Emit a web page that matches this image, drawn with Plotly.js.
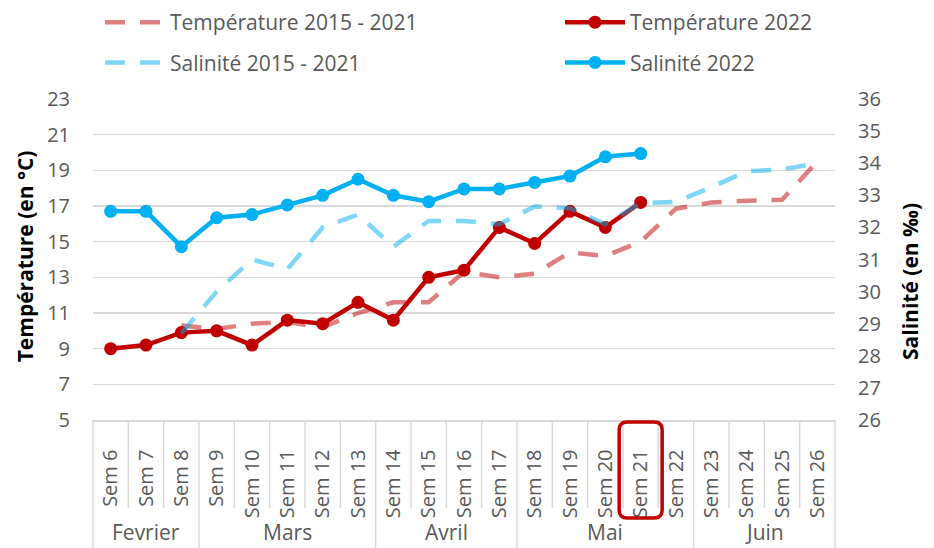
<!DOCTYPE html>
<html>
<head>
<meta charset="utf-8">
<script src="https://cdn.plot.ly/plotly-3.0.1.min.js"></script>
<style>html,body{margin:0;padding:0;background:#fff;}#chart{width:934px;height:548px;}</style>
</head>
<body>
<div id="chart"></div>
<script>
// ---- Data ----
const weeks = ['Sem 6','Sem 7','Sem 8','Sem 9','Sem 10','Sem 11','Sem 12','Sem 13','Sem 14','Sem 15','Sem 16','Sem 17','Sem 18','Sem 19','Sem 20','Sem 21','Sem 22','Sem 23','Sem 24','Sem 25','Sem 26'];
const months = ['Fevrier','Mars','Avril','Mai','Juin'];
const monthWeekCounts = [3,5,4,5,4];
const temp2022 = [9.0,9.2,9.9,10.0,9.2,10.6,10.4,11.6,10.6,13.0,13.4,15.8,14.9,16.7,15.8,17.2,null,null,null,null,null];
const sal2022  = [32.5,32.5,31.4,32.3,32.4,32.7,33.0,33.5,33.0,32.8,33.2,33.2,33.4,33.6,34.2,34.3,null,null,null,null,null];
const tempHist = [null,null,10.3,10.1,10.4,10.5,10.2,11.0,11.6,11.6,13.3,13.0,13.2,14.4,14.2,15.0,16.85,17.2,17.3,17.35,19.5];
const salHist  = [null,null,28.7,30.0,31.0,30.7,32.0,32.4,31.4,32.2,32.2,32.1,32.65,32.6,32.1,32.75,32.8,33.25,33.75,33.8,34.0];
const highlightWeek = 'Sem 21';
const seriesNames = ['Température 2022','Température 2015 - 2021','Salinité 2022','Salinité 2015 - 2021'];
const axisTitles = ['Température (en °C)', 'Salinité (en ‰)'];

// ---- Style ----
const FONT = 'Open Sans, Noto Sans, sans-serif';
const GREY = '#595959';
const GRID = '#D9D9D9';
const RED = '#C00000';
const BLUE = '#00B0F0';
const W = 934, H = 548;
const M = {l: 93, r: 99, t: 99, b: 128, autoexpand: false};
const plotW = W - M.l - M.r, plotH = H - M.t - M.b;
const px2py = p => -p / plotH; // px below axis -> paper y

const traces = [
  {name: seriesNames[0], x: weeks, y: temp2022, yaxis: 'y', mode: 'lines+markers',
   line: {color: RED, width: 4.5}, marker: {color: RED, size: 13},
   legend: 'legend2', legendgroup: 'g1'},
  {name: seriesNames[1], x: weeks, y: tempHist, yaxis: 'y', mode: 'lines',
   line: {color: 'rgba(192,0,0,0.5)', width: 4.5, dash: '20px,15px'},
   legend: 'legend', legendgroup: 'g2'},
  {name: seriesNames[2], x: weeks, y: sal2022, yaxis: 'y2', mode: 'lines+markers',
   line: {color: BLUE, width: 4.5}, marker: {color: BLUE, size: 13},
   legend: 'legend2', legendgroup: 'g3'},
  {name: seriesNames[3], x: weeks, y: salHist, yaxis: 'y2', mode: 'lines',
   line: {color: 'rgba(0,176,240,0.5)', width: 4.5, dash: '20px,15px'},
   legend: 'legend', legendgroup: 'g4'}
];

// ---- Category dividers and month labels ----
const n = weeks.length;
const shapes = [];
const annotations = [];
const monthBounds = new Set([0]);
let acc = 0;
monthWeekCounts.forEach((c, i) => {
  const start = acc;
  acc += c;
  monthBounds.add(acc);
  annotations.push({xref: 'paper', yref: 'paper', x: (start + c / 2) / n, y: px2py(M.b),
    xanchor: 'center', yanchor: 'bottom', text: months[i], showarrow: false,
    font: {family: FONT, size: 21, color: GREY}});
});
for (let k = 0; k <= n; k++) {
  const long = monthBounds.has(k);
  shapes.push({type: 'line', xref: 'paper', yref: 'paper', x0: k / n, x1: k / n,
    y0: 0, y1: long ? px2py(140) : px2py(88), line: {color: GRID, width: 1.5}, layer: 'above'});
}
// axis titles (vertical text beside each axis)
annotations.push({xref: 'paper', yref: 'paper', x: (25 - M.l) / plotW, y: 0.51,
  xanchor: 'center', yanchor: 'middle', textangle: -90, showarrow: false, text: axisTitles[0],
  font: {family: FONT, size: 21, color: '#000', weight: 'bold'}});
annotations.push({xref: 'paper', yref: 'paper', x: 1 + (910 - (W - M.r)) / plotW, y: 0.43,
  xanchor: 'center', yanchor: 'middle', textangle: -90, showarrow: false, text: axisTitles[1],
  font: {family: FONT, size: 21, color: '#000', weight: 'bold'}});

// rounded highlight box around the highlighted week label
(function () {
  const idx = weeks.indexOf(highlightWeek);
  const cx = (idx + 0.5) / n;
  const hw = 21.5 / plotW, r = 8;
  const rx = r / plotW, ry = r / plotH;
  const yt = px2py(2), yb = px2py(98);
  const xl = cx - hw, xr = cx + hw;
  const path = `M${xl + rx},${yt} L${xr - rx},${yt} Q${xr},${yt} ${xr},${yt - ry} L${xr},${yb + ry} Q${xr},${yb} ${xr - rx},${yb} L${xl + rx},${yb} Q${xl},${yb} ${xl},${yb + ry} L${xl},${yt - ry} Q${xl},${yt} ${xl + rx},${yt} Z`;
  shapes.push({type: 'path', xref: 'paper', yref: 'paper', path: path,
    line: {color: RED, width: 3.5}, layer: 'above'});
})();

const legendCommon = {orientation: 'v', xref: 'container', yref: 'container',
  xanchor: 'left', yanchor: 'top', bgcolor: 'rgba(0,0,0,0)',
  font: {family: FONT, size: 21, color: GREY}, tracegroupgap: 10, itemwidth: 60};

const layout = {
  width: W, height: H,
  margin: M,
  paper_bgcolor: '#fff', plot_bgcolor: '#fff',
  font: {family: FONT, color: GREY},
  showlegend: true,
  legend: Object.assign({}, legendCommon, {x: 100 / W, y: 1 - 2 / H}),
  legend2: Object.assign({}, legendCommon, {x: 560 / W, y: 1 - 2 / H}),
  xaxis: {type: 'category', range: [-0.5, n - 0.5], showgrid: false, zeroline: false,
    showline: true, linecolor: GRID, linewidth: 1.5, ticks: '', tickangle: -90,
    ticklabelstandoff: 20, tickfont: {family: FONT, size: 20, color: GREY}, fixedrange: true},
  yaxis: {range: [5, 23], dtick: 2, tick0: 5, showgrid: true, gridcolor: GRID, gridwidth: 1.5,
    zeroline: false, showline: false, ticks: '', ticklabelstandoff: 22,
    tickfont: {family: FONT, size: 20, color: GREY}},
  yaxis2: {range: [26, 36], dtick: 1, tick0: 26, overlaying: 'y', side: 'right', showgrid: false,
    zeroline: false, showline: false, ticks: '', ticklabelstandoff: 22,
    tickfont: {family: FONT, size: 20, color: GREY}},
  shapes: shapes,
  annotations: annotations
};

Plotly.newPlot('chart', traces, layout, {displayModeBar: false, staticPlot: true});
</script>
</body>
</html>
